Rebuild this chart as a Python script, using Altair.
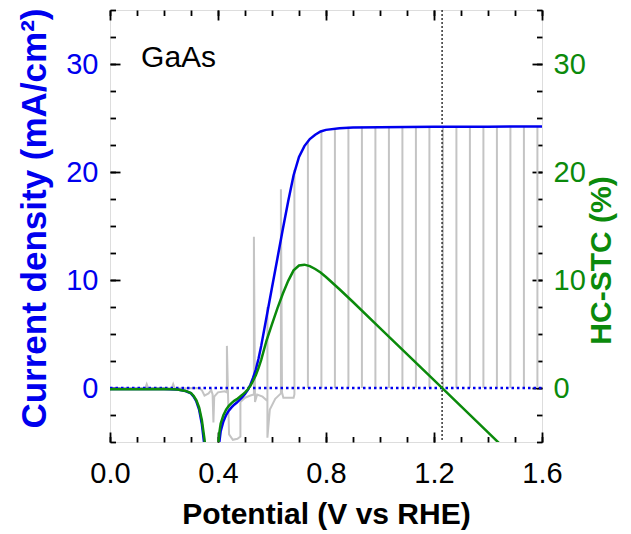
import altair as alt
import pandas as pd

# Illuminated J-V sweep (potential in V vs RHE, current density in mA/cm2)
jv_v = [0.00, 0.10, 0.20, 0.25, 0.28, 0.30, 0.31, 0.32, 0.33, 0.34, 0.35, 0.36, 0.37, 0.39,
        0.395, 0.40, 0.405, 0.41, 0.42, 0.43, 0.44, 0.45, 0.46, 0.47, 0.48, 0.49, 0.50, 0.51,
        0.52, 0.53, 0.54, 0.55, 0.56, 0.58, 0.60, 0.62, 0.64, 0.66, 0.68, 0.70, 0.72, 0.74,
        0.76, 0.78, 0.80, 0.85, 0.90, 1.00, 1.20, 1.40, 1.60]
jv_j = [-0.10, -0.10, -0.10, -0.15, -0.28, -0.50, -0.80, -1.25, -2.00, -3.30, -5.40, -8.50,
        -12.0, -12.0, -9.0, -6.8, -5.0, -4.0, -3.1, -2.5, -2.1, -1.8, -1.55, -1.35, -1.1,
        -0.85, -0.55, -0.20, 0.30, 0.95, 1.70, 2.70, 3.90, 6.60, 9.30, 12.0, 14.7, 17.3,
        19.7, 21.4, 22.4, 23.05, 23.45, 23.75, 23.90, 24.05, 24.12, 24.15, 24.18, 24.20, 24.22]

# Half-cell solar-to-current efficiency (%)
stc_v = [0.00, 0.10, 0.20, 0.25, 0.28, 0.30, 0.31, 0.32, 0.33, 0.34, 0.35, 0.36, 0.37, 0.39,
         0.395, 0.40, 0.405, 0.41, 0.42, 0.43, 0.44, 0.45, 0.46, 0.47, 0.48, 0.49, 0.50, 0.51,
         0.52, 0.53, 0.54, 0.55, 0.56, 0.58, 0.60, 0.62, 0.64, 0.66, 0.68, 0.70, 0.72, 0.74,
         0.76, 0.78, 0.80, 0.85, 0.90, 1.00, 1.20, 1.40, 1.60]
stc_pct = [-0.12, -0.11, -0.10, -0.15, -0.27, -0.47, -0.74, -1.14, -1.80, -2.94, -4.75, -7.40,
           -10.3, -10.1, -7.5, -5.64, -4.13, -3.28, -2.51, -2.00, -1.66, -1.40, -1.19, -1.03,
           -0.83, -0.63, -0.40, -0.14, 0.21, 0.67, 1.17, 1.84, 2.61, 4.42, 5.92, 7.38, 8.73,
           9.92, 10.89, 11.34, 11.42, 11.29, 11.02, 10.69, 10.28, 9.14, 7.96, 5.55, 0.73,
           -4.11, -8.96]

# Dark current
dark_v = [0.0, 1.6]
dark_j = [0.0, 0.0]

# Chopped-light trace through the onset region
trace_v = [0.000, 0.130, 0.136, 0.142, 0.228, 0.234, 0.240, 0.330, 0.340, 0.350, 0.365, 0.375,
           0.380, 0.383, 0.386, 0.400, 0.425, 0.433, 0.433, 0.437, 0.441, 0.455, 0.472, 0.483,
           0.483, 0.500, 0.520, 0.533, 0.533, 0.537, 0.545, 0.565, 0.583, 0.583, 0.583, 0.592,
           0.612, 0.633, 0.633, 0.637, 0.642, 0.680, 0.683, 0.683]
trace_j = [-0.05, -0.05, 0.35, -0.05, -0.05, 0.35, -0.05, 0.0, -0.2, -0.7, -0.5, -0.2,
           -0.6, -3.2, -0.8, -0.4, -0.3, -0.4, 3.9, -0.5, -4.3, -4.8, -4.7, -4.5,
           -1.3, -0.9, -0.7, -0.6, 14.0, -1.3, -0.6, -0.8, -1.2, 7.5, -4.6, -2.0,
           -1.0, -0.5, 18.4, -0.4, -0.9, -0.9, -0.6, 20.2]

# Chopped-light edges on the plateau: position and current span
chop_v = [0.733, 0.783, 0.833, 0.883, 0.933, 0.983, 1.033, 1.083, 1.133, 1.183, 1.233,
          1.283, 1.333, 1.383, 1.433, 1.483, 1.533, 1.583]
chop_lo = [0.0] * len(chop_v)
chop_hi = [22.9, 23.8, 24.0, 24.2, 24.2, 24.2, 24.2, 24.2, 24.2, 24.2, 24.2,
           24.2, 24.2, 24.2, 24.2, 24.2, 24.2, 24.2]

# Reversible potential marker and sample label
e_rev = [1.23]
label_v = [0.115]
label_j = [29.7]
label_text = ["GaAs"]

FONT = "Liberation Sans"
BLUE = "#0000ee"
GREEN = "#0b8a0b"
XDOM = [0.0, 1.6]
YDOM = [-5, 35]

xs = alt.Scale(domain=XDOM, nice=False, zero=False)
ys = alt.Scale(domain=YDOM, nice=False, zero=False)

MAJ, MIN = 10, 5.5
x_major = [0.0, 0.4, 0.8, 1.2, 1.6]
x_minor = [round(i * 0.1, 1) for i in range(17)]
y_major = [0, 10, 20, 30]
y_minor = [-5 + 2.5 * i for i in range(17)]


def tick_axis(orient, values, size, **kw):
    base = dict(orient=orient, values=values, tickSize=size, offset=-size,
                domain=False, grid=False, tickColor="black", tickWidth=1.8,
                labels=False, title=None, labelFlush=False)
    base.update(kw)
    return alt.Axis(**base)


ax_bottom = tick_axis(
    "bottom", x_major, MAJ, labels=True, format=".1f", labelFont=FONT,
    labelFontSize=29, labelColor="black", labelPadding=17,
    title="Potential (V vs RHE)", titleFont=FONT, titleFontSize=30,
    titleFontWeight="bold", titleColor="black", titleY=67, titleBaseline="top")
ax_bottom_minor = tick_axis("bottom", x_minor, MIN)
ax_top = tick_axis("top", x_major, MAJ)
ax_top_minor = tick_axis("top", x_minor, MIN)

ax_left = tick_axis(
    "left", y_major, MAJ, labels=True, labelFont=FONT, labelFontSize=29,
    labelColor=BLUE, labelPadding=12,
    title="Current density (mA/cm²)", titleFont=FONT, titleFontSize=35,
    titleFontWeight="bold", titleColor=BLUE, titleAngle=270,
    titleX=-86, titleY=208, titleBaseline="middle", titleAlign="center")
ax_left_minor = tick_axis("left", y_minor, MIN)
ax_right = tick_axis(
    "right", y_major, MAJ, labels=True, labelFont=FONT, labelFontSize=29,
    labelColor=GREEN, labelPadding=11,
    title="HC-STC (%)", titleFont=FONT, titleFontSize=30,
    titleFontWeight="bold", titleColor=GREEN, titleAngle=270,
    titleX=69, titleY=250, titleBaseline="middle", titleAlign="center")
ax_right_minor = tick_axis("right", y_minor, MIN)

trace_df = pd.DataFrame({"v": trace_v, "j": trace_j, "i": range(len(trace_v))})
chop_df = pd.DataFrame({"v": chop_v, "lo": chop_lo, "hi": chop_hi})
dark_df = pd.DataFrame({"v": dark_v, "j": dark_j})
jv_df = pd.DataFrame({"v": jv_v, "j": jv_j})
stc_df = pd.DataFrame({"v": stc_v, "p": stc_pct})
rev_df = pd.DataFrame({"v": e_rev})
lab_df = pd.DataFrame({"v": label_v, "j": label_j, "t": label_text})

gray = alt.Chart(trace_df).mark_line(color="#c4c4c4", strokeWidth=2, clip=True).encode(
    x=alt.X("v:Q", scale=xs, axis=ax_bottom),
    y=alt.Y("j:Q", scale=ys, axis=ax_left),
    order="i:Q",
)
chops = alt.Chart(chop_df).mark_rule(color="#c4c4c4", strokeWidth=2, clip=True).encode(
    x=alt.X("v:Q", scale=xs, axis=ax_bottom_minor),
    y=alt.Y("lo:Q", scale=ys, axis=ax_left_minor),
    y2="hi:Q",
)
dark = alt.Chart(dark_df).mark_line(color=BLUE, strokeWidth=2.5, strokeDash=[2.5, 3], clip=True).encode(
    x=alt.X("v:Q", scale=xs, axis=ax_top),
    y=alt.Y("j:Q", scale=ys, axis=ax_right),
)
rev = alt.Chart(rev_df).mark_rule(color="#333333", strokeWidth=1.5, strokeDash=[2, 2]).encode(
    x=alt.X("v:Q", scale=xs, axis=ax_top_minor),
    y=alt.value(0),
    y2=alt.value(432),
)
jv = alt.Chart(jv_df).mark_line(color=BLUE, strokeWidth=2.5, clip=True).encode(
    x=alt.X("v:Q", scale=xs, axis=None),
    y=alt.Y("j:Q", scale=ys, axis=ax_right_minor),
)
stc = alt.Chart(stc_df).mark_line(color=GREEN, strokeWidth=2.5, clip=True).encode(
    x=alt.X("v:Q", scale=xs, axis=None),
    y=alt.Y("p:Q", scale=ys, axis=None),
)
label = alt.Chart(lab_df).mark_text(
    font=FONT, fontSize=30, align="left", baseline="alphabetic", color="black"
).encode(
    x=alt.X("v:Q", scale=xs, axis=None),
    y=alt.Y("j:Q", scale=ys, axis=None),
    text="t:N",
)

chart = (
    alt.layer(gray, chops, dark, rev, jv, stc, label)
    .resolve_axis(x="independent", y="independent")
    .properties(
        width=432,
        height=432,
        autosize=alt.AutoSizeParams(type="none"),
        padding={"left": 110, "top": 10, "right": 89, "bottom": 92},
    )
    .configure_view(stroke="black", strokeWidth=2)
    .configure(background="white")
)

chart.save("out.html", embed_options={"renderer": "svg", "actions": False})
